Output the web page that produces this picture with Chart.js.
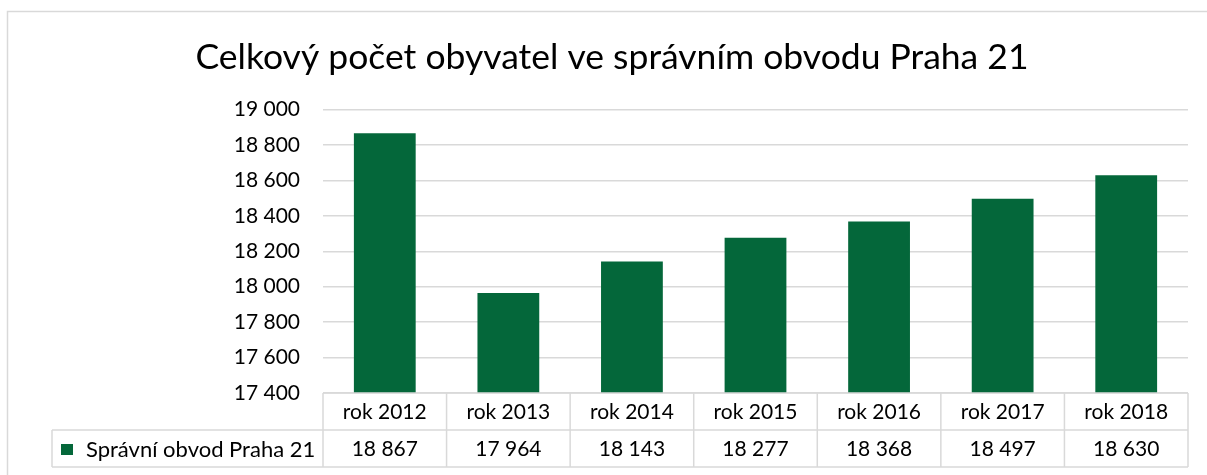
<!DOCTYPE html>
<html>
<head>
<meta charset="utf-8">
<script src="https://cdn.jsdelivr.net/npm/chart.js@4"></script>
<style>
  body { margin: 0; background: #fff; }
  #wrap { width: 1207px; height: 475px; }
</style>
</head>
<body>
<div id="wrap"><canvas id="barChart" width="1207" height="475"></canvas></div>
<script>
// Data
const years = ['rok 2012', 'rok 2013', 'rok 2014', 'rok 2015', 'rok 2016', 'rok 2017', 'rok 2018'];
const population = [18867, 17964, 18143, 18277, 18368, 18497, 18630];
const seriesName = 'Správní obvod Praha 21';
const chartTitle = 'Celkový počet obyvatel ve správním obvodu Praha 21';
const yMin = 17400;
const yMax = 19000;
const yStep = 200;

const barColor = '#04673a';
const lineColor = '#d9d9d9';
const fontFamily = 'Lato, "Open Sans", sans-serif';

// 18867 -> "18 867"
function formatNum(v) {
    return String(v).replace(/\B(?=(\d{3})+(?!\d))/g, ' ');
}

// Excel-like data table under the plot, drawn from the x scale
const dataTable = {
    id: 'dataTable',
    afterDraw(chart) {
        const ctx = chart.ctx;
        const x = chart.scales.x;
        const area = chart.chartArea;
        const top = area.bottom;
        const rowH = 37;
        const legendLeft = 52;
        const half = (x.getPixelForValue(1) - x.getPixelForValue(0)) / 2;

        ctx.save();
        // outer frame of the chart object
        ctx.strokeStyle = lineColor;
        ctx.lineWidth = 1.5;
        ctx.strokeRect(7.5, 11.5, 1220, 500);

        ctx.beginPath();
        ctx.moveTo(area.left, top);
        ctx.lineTo(area.right, top);
        ctx.moveTo(legendLeft, top + rowH);
        ctx.lineTo(area.right, top + rowH);
        ctx.moveTo(legendLeft, top + rowH * 2);
        ctx.lineTo(area.right, top + rowH * 2);
        ctx.moveTo(legendLeft, top + rowH);
        ctx.lineTo(legendLeft, top + rowH * 2);
        for (let i = 0; i <= years.length; i++) {
            const px = x.getPixelForValue(i) - half;
            ctx.moveTo(px, top);
            ctx.lineTo(px, top + rowH * 2);
        }
        ctx.stroke();

        ctx.fillStyle = '#000';
        ctx.font = '21px ' + fontFamily;
        ctx.textAlign = 'center';
        ctx.textBaseline = 'middle';
        years.forEach((label, i) => {
            const cx = x.getPixelForValue(i);
            ctx.fillText(label, cx, top + rowH / 2 + 1);
            ctx.fillText(formatNum(population[i]), cx, top + rowH * 1.5 + 1);
        });

        // legend key + series name
        ctx.fillStyle = barColor;
        ctx.fillRect(61, top + rowH + 14, 12, 11);
        ctx.fillStyle = '#000';
        ctx.textAlign = 'left';
        ctx.font = '22px ' + fontFamily;
        ctx.fillText(seriesName, 86, top + rowH * 1.5 + 1);
        ctx.restore();
    }
};

new Chart(document.getElementById('barChart').getContext('2d'), {
    type: 'bar',
    data: {
        labels: years,
        datasets: [{
            label: seriesName,
            data: population,
            backgroundColor: barColor,
            borderWidth: 0,
            categoryPercentage: 1,
            barPercentage: 0.5
        }]
    },
    options: {
        responsive: false,
        animation: false,
        layout: { padding: { left: 36, right: 19, top: 0, bottom: 0 } },
        scales: {
            y: {
                min: yMin,
                max: yMax,
                afterFit: s => { s.width = 287; },
                grid: { color: lineColor, lineWidth: 1.5, drawTicks: false },
                border: { display: false },
                ticks: {
                    stepSize: yStep,
                    padding: 23,
                    color: '#000',
                    font: { family: fontFamily, size: 21 },
                    callback: v => formatNum(v)
                }
            },
            x: {
                afterFit: s => { s.height = 82; },
                grid: { display: false },
                border: { display: false },
                ticks: { display: false }
            }
        },
        plugins: {
            legend: { display: false },
            tooltip: { enabled: false },
            title: {
                display: true,
                text: chartTitle,
                color: '#000',
                font: { family: fontFamily, size: 35.5, weight: 'normal' },
                padding: { top: 36, bottom: 31 }
            }
        }
    },
    plugins: [dataTable]
});
</script>
</body>
</html>
